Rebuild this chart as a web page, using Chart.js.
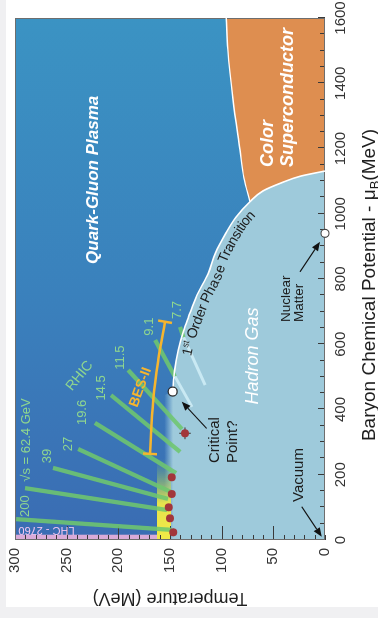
<!DOCTYPE html>
<html>
<head>
<meta charset="utf-8">
<script src="https://cdn.jsdelivr.net/npm/chart.js@4.4.1/dist/chart.umd.min.js"></script>
<style>
  html, body { margin: 0; padding: 0; width: 378px; height: 618px; overflow: hidden; background: #f0f0f2; }
  #card { position: absolute; left: 6px; top: 0; width: 372px; height: 607px; background: #ffffff; }
  /* the diagram is laid out landscape and turned a quarter turn counter-clockwise */
  #wrap { position: absolute; left: 0; top: 0; width: 618px; height: 378px;
          transform-origin: 0 0; transform: translate(0, 618px) rotate(-90deg); }
  canvas { display: block; }
</style>
</head>
<body>
<div id="card"></div>
<div id="wrap"><canvas id="phase" width="618" height="378" style="width:618px;height:378px"></canvas></div>
<script>
// ---- axes ----
const muBTicks = [0, 200, 400, 600, 800, 1000, 1200, 1400, 1600];
const tempTicks = [0, 50, 100, 150, 200, 250, 300];
const muBMinorStep = 50;
const tempMinorStep = 10;

// ---- phase boundaries (muB, T in MeV) ----
const crossoverMuB = [0, 440];
const crossoverT = [157, 157];
const firstOrderMuB = [455, 520, 582, 640, 684, 750, 817, 880, 940, 990, 1037, 1070, 1095, 1115, 1131];
const firstOrderT   = [147.4, 145.5, 142, 137, 132, 124, 113, 106, 96, 86, 72.6, 60, 42, 24, 0];
const cscBoundaryMuB = [1037, 1110, 1196, 1350, 1503, 1600];
const cscBoundaryT   = [72.6, 78.5, 82.3, 89, 94, 95.5];

// lattice QCD crossover band and LHC strip
const latticeMuB = [0, 250];
const latticeTHigh = [162.5, 162.5];
const latticeTLow = 149;
const lhcMuB = [0, 17];
const lhcTHigh = [300, 300];
const lhcTLow = 162.6;

// ---- beam-energy trajectories ----
const beamEnergies = ['200', '62.4', '39', '27', '19.6', '14.5', '11.5', '9.1', '7.7'];
const trajStartMuB = [64, 159, 221, 279, 359, 444, 521, 613, 653];
const trajStartT   = [299, 290.3, 263.2, 239, 222.6, 207.1, 190.6, 164.5, 140.3];
const trajEndMuB   = [31, 92, 126, 147, 205, 270, 340, 501, 621];
const trajEndT     = [148.1, 152.9, 151.9, 149, 144.2, 140.3, 138.4, 145.2, 136.9];
const tailEnergies = ['9.1', '7.7'];
const tailEndMuB = [408, 475];
const tailEndT   = [128.7, 116.1];

// ---- measured / special points ----
const freezeMuB = [23.6, 66.5, 100.2, 141, 192.2];
const freezeT   = [146.9, 150, 151.3, 148.4, 148.4];
const starMuB = [327];
const starT = [135.5];
const starErrMuB = [18];
const starErrT = [5.5];
const criticalMuB = [455];
const criticalT = [147.4];
const nuclearMuB = [940];
const nuclearT = [0];
const besMuB = [264, 429, 552, 669];
const besT   = [169.4, 166.2, 161.3, 154.8];

// ---- look ----
const FONT = '"Liberation Sans", Arial, Helvetica, sans-serif';
const COL = {
  qgpLow: '#3a6cb3', qgpMid: '#3a80bc', qgpHigh: '#3b93c3',
  hadron: 'rgb(158,202,219)', orange: '#de8e50', pink: '#d9abd9',
  green: 'rgba(110,198,110,0.88)', pale: '#c9e9f3', greenText: '#8fd68f',
  bes: '#f6b52e', red: '#a2363b', ink: '#1c1c1c'
};

const pts = (xs, ys) => xs.map((v, i) => ({ x: v, y: ys[i] }));

const regionLabels = [
  { text: 'Quark-Gluon Plasma', mu: 1104, t: 224.5, style: 'italic bold', size: 17, color: '#ffffff', align: 'center' },
  { text: 'Color', mu: 1143, t: 55.6, style: 'italic bold', size: 18, color: '#ffffff', align: 'left' },
  { text: 'Superconductor', mu: 1143, t: 35.3, style: 'italic bold', size: 18, color: '#ffffff', align: 'left' },
  { text: 'Hadron Gas', mu: 564, t: 69.7, style: 'italic', size: 18, color: '#ffffff', align: 'center' },
  { text: 'Nuclear', mu: 668, t: 37.4, style: '', size: 13.5, color: COL.ink, align: 'left' },
  { text: 'Matter', mu: 668, t: 25.3, style: '', size: 13.5, color: COL.ink, align: 'left' },
  { text: 'Critical', mu: 236, t: 106.5, style: '', size: 15, color: COL.ink, align: 'left' },
  { text: 'Point?', mu: 236, t: 89.5, style: '', size: 15, color: COL.ink, align: 'left' },
  { text: 'Vacuum', mu: 116.5, t: 25, style: '', size: 15, color: COL.ink, align: 'left' },
  { text: '200', mu: 104, t: 290.3, style: '', size: 13, color: COL.greenText, align: 'center' },
  { text: '\u221As = 62.4 GeV', mu: 306.5, t: 288.9, style: '', size: 13, color: COL.greenText, align: 'center' },
  { text: '39', mu: 257.5, t: 268.6, style: '', size: 13, color: COL.greenText, align: 'center' },
  { text: '27', mu: 294, t: 248.7, style: '', size: 13, color: COL.greenText, align: 'center' },
  { text: '19.6', mu: 391, t: 234.7, style: '', size: 13, color: COL.greenText, align: 'center' },
  { text: '14.5', mu: 466, t: 216.1, style: '', size: 13, color: COL.greenText, align: 'center' },
  { text: '11.5', mu: 559, t: 198.4, style: '', size: 13, color: COL.greenText, align: 'center' },
  { text: '9.1', mu: 654, t: 170.3, style: '', size: 13, color: COL.greenText, align: 'center' },
  { text: '7.7', mu: 705, t: 142.7, style: '', size: 13, color: COL.greenText, align: 'center' },
  { text: 'RHIC', mu: 503, t: 237.4, style: '', size: 14, color: COL.greenText, align: 'center', rot: 39 },
  { text: 'BES-II', mu: 468, t: 178.5, style: 'bold', size: 14, color: COL.bes, align: 'center', rot: 20 },
  { text: 'LHC - 2760', mu: 30, t: 269.5, style: '', size: 11, color: '#f2c6f0', align: 'center', rot: -90 }
];

const arrows = [
  { from: [342, 114.5], to: [424, 138.6] },
  { from: [822, 24.2], to: [914, 4.8] },
  { from: [102, 22.5], to: [10, 3.2] }
];

const transitionLabel = { startMuB: 572, offset: 10, size: 14, color: COL.ink };

function hadronFill(ctx) {
  const chart = ctx.chart;
  if (!chart.chartArea) return COL.hadron;
  const y = chart.scales.y;
  const g = chart.ctx.createLinearGradient(0, y.getPixelForValue(155.5), 0, y.getPixelForValue(147));
  g.addColorStop(0, 'rgba(158,202,219,0)');
  g.addColorStop(1, 'rgba(158,202,219,1)');
  return g;
}

function latticeFill(ctx) {
  const chart = ctx.chart;
  if (!chart.chartArea) return '#eee64a';
  const x = chart.scales.x;
  const g = chart.ctx.createLinearGradient(x.getPixelForValue(0), 0, x.getPixelForValue(250), 0);
  g.addColorStop(0, 'rgba(243,234,70,1)');
  g.addColorStop(0.45, 'rgba(238,232,72,0.95)');
  g.addColorStop(0.75, 'rgba(170,210,95,0.45)');
  g.addColorStop(1, 'rgba(120,190,120,0)');
  return g;
}

const datasets = [
  { label: 'Color superconductor', data: pts(cscBoundaryMuB, cscBoundaryT), showLine: true,
    cubicInterpolationMode: 'monotone', borderWidth: 0, pointRadius: 0,
    fill: 'origin', backgroundColor: COL.orange, order: 20 },
  { label: 'Hadron gas', data: pts(crossoverMuB.concat(firstOrderMuB), crossoverT.concat(firstOrderT)),
    showLine: true, cubicInterpolationMode: 'monotone', borderWidth: 0, pointRadius: 0,
    fill: 'origin', backgroundColor: hadronFill, order: 19 },
  { label: 'Lattice crossover', data: pts(latticeMuB, latticeTHigh), showLine: true, borderWidth: 0,
    pointRadius: 0, fill: { value: latticeTLow }, backgroundColor: latticeFill, order: 18 },
  { label: 'LHC', data: pts(lhcMuB, lhcTHigh), showLine: true, borderWidth: 0, pointRadius: 0,
    fill: { value: lhcTLow }, backgroundColor: COL.pink, order: 17 }
];

beamEnergies.forEach((e, i) => {
  datasets.push({ label: 'sqrt(s) ' + e,
    data: [{ x: trajStartMuB[i], y: trajStartT[i] }, { x: trajEndMuB[i], y: trajEndT[i] }],
    showLine: true, borderColor: COL.green, borderWidth: 4.3, borderCapStyle: 'butt',
    pointRadius: 0, fill: false, order: 10 });
});
tailEnergies.forEach((e, i) => {
  const k = beamEnergies.indexOf(e);
  datasets.push({ label: 'hadronic ' + e,
    data: [{ x: trajEndMuB[k], y: trajEndT[k] }, { x: tailEndMuB[i], y: tailEndT[i] }],
    showLine: true, borderColor: COL.pale, borderWidth: 3, borderCapStyle: 'butt',
    pointRadius: 0, fill: false, order: 9 });
});

datasets.push(
  { label: 'First order line', data: pts(firstOrderMuB, firstOrderT), showLine: true,
    cubicInterpolationMode: 'monotone', borderColor: '#ffffff', borderWidth: 1.6,
    pointRadius: 0, fill: false, order: 8, clip: false },
  { label: 'CSC line', data: pts(cscBoundaryMuB, cscBoundaryT), showLine: true,
    cubicInterpolationMode: 'monotone', borderColor: '#ffffff', borderWidth: 1.4,
    pointRadius: 0, fill: false, order: 8 },
  { label: 'BES-II', data: pts(besMuB, besT), showLine: true, tension: 0.4,
    borderColor: COL.bes, borderWidth: 2.5, pointRadius: 0, fill: false, order: 7 },
  { label: 'BES-II ends', data: [{ x: besMuB[0], y: besT[0] }, { x: besMuB[besMuB.length - 1], y: besT[besT.length - 1] }],
    showLine: false, pointStyle: 'line', pointRadius: 7, rotation: [93, 100],
    borderColor: COL.bes, borderWidth: 2.5, order: 7 },
  { label: 'err T', data: [{ x: starMuB[0], y: starT[0] - starErrT[0] }, { x: starMuB[0], y: starT[0] + starErrT[0] }],
    showLine: true, borderColor: '#4a4a4a', borderWidth: 1.2, pointRadius: 0, order: 5 },
  { label: 'err muB', data: [{ x: starMuB[0] - starErrMuB[0], y: starT[0] }, { x: starMuB[0] + starErrMuB[0], y: starT[0] }],
    showLine: true, borderColor: '#4a4a4a', borderWidth: 1.2, pointRadius: 0, order: 5 },
  { label: 'Freeze-out', data: pts(freezeMuB, freezeT).concat(pts(starMuB, starT)), showLine: false,
    pointRadius: 4, backgroundColor: COL.red, borderWidth: 0, order: 4 },
  { label: 'Critical point', data: pts(criticalMuB, criticalT), showLine: false, pointRadius: 4.5,
    backgroundColor: '#ffffff', borderColor: '#2a2a2a', borderWidth: 1.3, order: 3 },
  { label: 'Nuclear matter', data: pts(nuclearMuB, nuclearT), showLine: false, pointRadius: 4,
    backgroundColor: '#ffffff', borderColor: '#444444', borderWidth: 1.2, order: 3, clip: false }
);

function drawTicksAndFrame(chart) {
  const { ctx, chartArea: a, scales: { x, y } } = chart;
  ctx.save();
  ctx.strokeStyle = '#3a3a3a';
  ctx.lineWidth = 1;
  ctx.beginPath();
  for (let v = 0; v <= 1600; v += muBMinorStep) {
    const px = Math.round(x.getPixelForValue(v)) + 0.5;
    const len = v % 200 === 0 ? 7 : 5;
    ctx.moveTo(px, a.bottom);
    ctx.lineTo(px, a.bottom - len);
  }
  for (let v = 0; v <= 300; v += tempMinorStep) {
    const py = Math.round(y.getPixelForValue(v)) + 0.5;
    const len = (v % 50 === 0 && v > 0 && v < 300) ? 14 : 5;
    ctx.moveTo(a.left, py);
    ctx.lineTo(a.left + len, py);
  }
  ctx.stroke();
  ctx.strokeStyle = '#6e6e6e';
  ctx.strokeRect(a.left + 0.5, a.top + 0.5, a.right - a.left - 1, a.bottom - a.top - 1);
  ctx.restore();
}

function drawArrow(ctx, x0, y0, x1, y1) {
  const a = Math.atan2(y1 - y0, x1 - x0);
  const hl = 9, hw = 3.6;
  const bx = x1 - hl * Math.cos(a), by = y1 - hl * Math.sin(a);
  ctx.beginPath();
  ctx.moveTo(x0, y0);
  ctx.lineTo(bx, by);
  ctx.stroke();
  ctx.beginPath();
  ctx.moveTo(x1, y1);
  ctx.lineTo(bx + hw * Math.sin(a), by - hw * Math.cos(a));
  ctx.lineTo(bx - hw * Math.sin(a), by + hw * Math.cos(a));
  ctx.closePath();
  ctx.fill();
}

function drawTransitionLabel(chart) {
  const { ctx, scales: { x, y } } = chart;
  const P = firstOrderMuB.map((m, i) => [x.getPixelForValue(m), y.getPixelForValue(firstOrderT[i])]);
  const cum = [0];
  for (let i = 1; i < P.length; i++) cum.push(cum[i - 1] + Math.hypot(P[i][0] - P[i - 1][0], P[i][1] - P[i - 1][1]));
  const at = (s) => {
    let i = 0;
    while (i < P.length - 2 && s > cum[i + 1]) i++;
    const L = cum[i + 1] - cum[i];
    const f = (s - cum[i]) / L;
    return [P[i][0] + f * (P[i + 1][0] - P[i][0]), P[i][1] + f * (P[i + 1][1] - P[i][1])];
  };
  const angleAt = (s) => { const a = at(s - 9), b = at(s + 9); return Math.atan2(b[1] - a[1], b[0] - a[0]); };
  // arclength where the label begins
  const sx = x.getPixelForValue(transitionLabel.startMuB);
  let s = 0;
  for (let i = 0; i < P.length - 1; i++) {
    if (P[i + 1][0] >= sx) { s = cum[i] + (sx - P[i][0]) / (P[i + 1][0] - P[i][0]) * (cum[i + 1] - cum[i]); break; }
  }
  const big = transitionLabel.size + 'px ' + FONT;
  const small = Math.round(transitionLabel.size * 0.66) + 'px ' + FONT;
  const pieces = [{ str: '1', font: big, dy: 0 }, { str: 'st', font: small, dy: -4 }, { str: ' Order Phase Transition', font: big, dy: 0 }];
  ctx.save();
  ctx.fillStyle = transitionLabel.color;
  ctx.textAlign = 'center';
  ctx.textBaseline = 'middle';
  pieces.forEach(p => {
    ctx.font = p.font;
    for (const ch of p.str) {
      const w = ctx.measureText(ch).width;
      const c = s + w / 2;
      const pos = at(c), th = angleAt(c);
      const ux = Math.sin(th), uy = -Math.cos(th);
      ctx.save();
      ctx.translate(pos[0] - transitionLabel.offset * ux, pos[1] - transitionLabel.offset * uy);
      ctx.rotate(th);
      ctx.fillText(ch, 0, p.dy);
      ctx.restore();
      s += w;
    }
  });
  ctx.restore();
}

const phaseDecor = {
  id: 'phaseDecor',
  beforeDatasetsDraw(chart) {
    const { ctx, chartArea: a, scales: { x } } = chart;
    const g = ctx.createLinearGradient(x.getPixelForValue(0), 0, x.getPixelForValue(1600), 0);
    g.addColorStop(0, COL.qgpLow);
    g.addColorStop(0.45, COL.qgpMid);
    g.addColorStop(1, COL.qgpHigh);
    ctx.save();
    ctx.fillStyle = g;
    ctx.fillRect(a.left, a.top, a.right - a.left, a.bottom - a.top);
    ctx.restore();
  },
  afterDatasetDraw(chart, args) {
    if (chart.data.datasets[args.index].label === 'LHC') drawTicksAndFrame(chart);
  },
  afterDatasetsDraw(chart) {
    const { ctx, scales: { x, y } } = chart;
    ctx.save();
    ctx.strokeStyle = '#111111';
    ctx.fillStyle = '#111111';
    ctx.lineWidth = 1.1;
    arrows.forEach(ar => drawArrow(ctx, x.getPixelForValue(ar.from[0]), y.getPixelForValue(ar.from[1]),
                                        x.getPixelForValue(ar.to[0]), y.getPixelForValue(ar.to[1])));
    ctx.textBaseline = 'middle';
    regionLabels.forEach(l => {
      ctx.font = (l.style ? l.style + ' ' : '') + l.size + 'px ' + FONT;
      ctx.fillStyle = l.color;
      ctx.textAlign = l.align;
      ctx.save();
      ctx.translate(x.getPixelForValue(l.mu), y.getPixelForValue(l.t));
      if (l.rot) ctx.rotate(l.rot * Math.PI / 180);
      ctx.fillText(l.text, 0, 0);
      ctx.restore();
    });
    ctx.restore();
    drawTransitionLabel(chart);
  },
  afterDraw(chart) {
    const { ctx, chartArea: a } = chart;
    const main = '19px ' + FONT, sub = '13px ' + FONT;
    const parts = [{ s: 'Baryon Chemical Potential - \u03BC', f: main, dy: 0 }, { s: 'B', f: sub, dy: 4 }, { s: '(MeV)', f: main, dy: 0 }];
    ctx.save();
    ctx.fillStyle = '#1f1f1f';
    ctx.textBaseline = 'alphabetic';
    ctx.textAlign = 'left';
    let total = 0;
    parts.forEach(p => { ctx.font = p.f; p.w = ctx.measureText(p.s).width; total += p.w; });
    let cx = (a.left + a.right) / 2 - 6 - total / 2;
    const base = a.bottom + 50;
    parts.forEach(p => { ctx.font = p.f; ctx.fillText(p.s, cx, base + p.dy); cx += p.w; });
    ctx.restore();
  }
};

const plainTick = v => String(v);

new Chart(document.getElementById('phase'), {
  type: 'scatter',
  data: { datasets },
  options: {
    responsive: false,
    animation: false,
    devicePixelRatio: 1,
    layout: { padding: { top: 15, right: 18, left: 0, bottom: 0 } },
    plugins: { legend: { display: false }, tooltip: { enabled: false } },
    scales: {
      x: {
        type: 'linear', position: 'bottom', min: 0, max: 1600,
        afterBuildTicks: s => { s.ticks = muBTicks.map(v => ({ value: v })); },
        ticks: { padding: 7, color: '#333333', font: { family: FONT, size: 15 }, maxRotation: 0,
                 autoSkip: false, callback: plainTick },
        grid: { display: false, drawTicks: false },
        border: { display: false },
        afterFit: s => { s.height = 53; s.paddingLeft = 0; s.paddingRight = 0; }
      },
      y: {
        type: 'linear', position: 'left', min: 0, max: 300,
        afterBuildTicks: s => { s.ticks = tempTicks.map(v => ({ value: v })); },
        ticks: { padding: 8, color: '#333333', font: { family: FONT, size: 15 }, autoSkip: false,
                 callback: plainTick },
        grid: { display: false, drawTicks: false },
        border: { display: false },
        title: { display: true, text: 'Temperature (MeV)', color: '#1f1f1f',
                 font: { family: FONT, size: 18 }, padding: { top: 9, bottom: 0 } },
        afterFit: s => { s.width = 78; s.paddingTop = 0; s.paddingBottom = 0; }
      }
    }
  },
  plugins: [phaseDecor]
});
</script>
</body>
</html>
